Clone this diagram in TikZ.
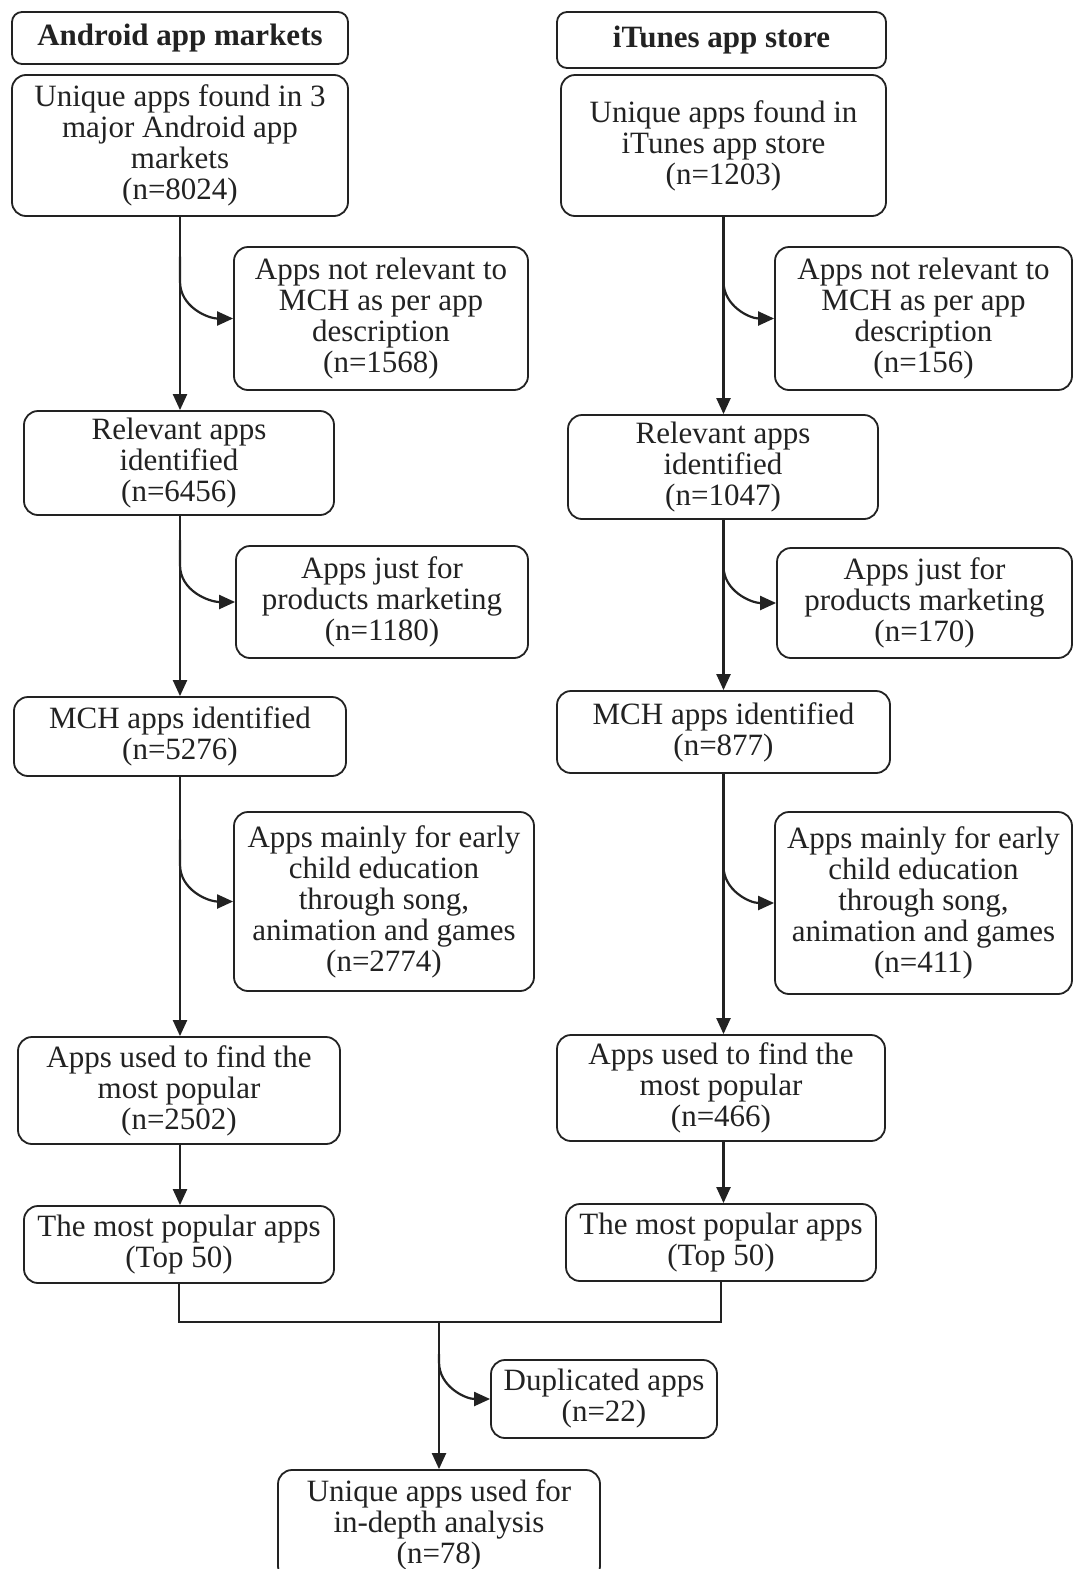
\documentclass[tikz,border=0pt]{standalone}
\usepackage{fontspec}
\setmainfont{Liberation Serif}
\usetikzlibrary{arrows.meta}
\definecolor{ink}{HTML}{222222}
\begin{document}
\begin{tikzpicture}[x=1pt,y=-1pt,
  every node/.style={text=ink},
  box/.style={draw=ink, line width=1.8pt, rounded corners=14pt, align=center,
    inner sep=0pt, font=\fontsize{31}{31}\selectfont},
  hdr/.style={box, rounded corners=10pt, font=\fontsize{31}{31}\selectfont\bfseries},
  conn/.style={draw=ink, line width=2.2pt},
  arr/.style={conn, -{Triangle[length=16pt,width=14pt]}},
]
\useasboundingbox (0,0) rectangle (1073,1569);
\newcommand{\bx}[6]{\node[#1, minimum width=#4, minimum height=#5] (#2) at #3 {#6};}
% left column
\bx{hdr}{LH}{(180,38)}{336}{52}{Android app markets}
\bx{box}{L1}{(180,145.5)}{336}{141}{Unique apps found in 3\\major Android app\\markets\\(n=8024)}
\bx{box}{LS1}{(381,318.5)}{294}{143}{Apps not relevant to\\MCH as per app\\description\\(n=1568)}
\bx{box}{L2}{(179,463)}{310}{104}{Relevant apps\\identified\\(n=6456)}
\bx{box}{LS2}{(382,602)}{292}{112}{Apps just for\\products marketing\\(n=1180)}
\bx{box}{L3}{(180,736.5)}{332}{79}{MCH apps identified\\(n=5276)}
\bx{box}{LS3}{(384,901.5)}{300}{179}{Apps mainly for early\\child education\\through song,\\animation and games\\(n=2774)}
\bx{box}{L4}{(179,1090.5)}{322}{107}{Apps used to find the\\most popular\\(n=2502)}
\bx{box}{L5}{(179,1244.5)}{310}{77}{The most popular apps\\(Top 50)}
% right column
\bx{hdr}{RH}{(721.5,40)}{329}{56}{iTunes app store}
\bx{box}{R1}{(723.5,145.5)}{325}{141}{Unique apps found in\\iTunes app store\\(n=1203)}
\bx{box}{RS1}{(923.5,318.5)}{297}{143}{Apps not relevant to\\MCH as per app\\description\\(n=156)}
\bx{box}{R2}{(723,467)}{310}{104}{Relevant apps\\identified\\(n=1047)}
\bx{box}{RS2}{(924.5,603)}{295}{110}{Apps just for\\products marketing\\(n=170)}
\bx{box}{R3}{(723.5,732)}{333}{82}{MCH apps identified\\(n=877)}
\bx{box}{RS3}{(923.5,903)}{297}{182}{Apps mainly for early\\child education\\through song,\\animation and games\\(n=411)}
\bx{box}{R4}{(721,1088)}{328}{106}{Apps used to find the\\most popular\\(n=466)}
\bx{box}{R5}{(721,1242.5)}{310}{77}{The most popular apps\\(Top 50)}
% bottom
\bx{box}{D}{(604,1399)}{226}{78}{Duplicated apps\\(n=22)}
\bx{box}{F}{(439,1525)}{322}{110}{Unique apps used for\\in-depth analysis\\(n=78)}
\coordinate (M) at (439,1322);
% spines
\foreach \a/\b in {L1/L2,L2/L3,L3/L4,L4/L5}{\draw[arr] (L1.south |- \a.south) -- (L1.south |- \b.north);}
\foreach \a/\b in {R1/R2,R2/R3,R3/R4,R4/R5}{\draw[arr] (R1.south |- \a.south) -- (R1.south |- \b.north);}
% branches
\foreach \s in {LS1,LS2,LS3}{\draw[arr] (L1.south |- \s.west) ++(0,-62) -- ++(0,25) to[out=-90,in=180] (\s.west);}
\foreach \s in {RS1,RS2,RS3}{\draw[arr] (R1.south |- \s.west) ++(0,-62) -- ++(0,25) to[out=-90,in=180] (\s.west);}
% merge
\draw[conn] (L5.south) -- (L5.south |- M) -- (R5.south |- M) -- (R5.south);
\draw[arr] (M) -- (M |- F.north);
\draw[arr] (M |- D.west) ++(0,-45) -- ++(0,8) to[out=-90,in=180] (D.west);
\end{tikzpicture}
\end{document}
